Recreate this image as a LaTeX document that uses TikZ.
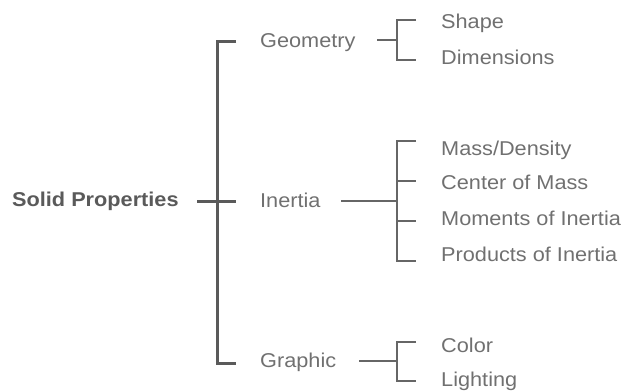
\documentclass[tikz,border=0pt]{standalone}
\usepackage{fontspec}
\setmainfont[FakeStretch=1.085]{Liberation Sans}
\definecolor{mainline}{HTML}{5A5A5A}
\definecolor{subline}{HTML}{666666}
\definecolor{txt}{HTML}{707070}
\definecolor{boldtxt}{HTML}{5A5A5A}
\begin{document}
\begin{tikzpicture}[x=1pt,y=-1pt,
  lbl/.style={anchor=base west,inner sep=0pt,text=txt,font=\fontsize{20}{24}\selectfont},
  rootlbl/.style={anchor=base west,inner sep=0pt,text=boldtxt,font=\fontsize{20}{24}\selectfont\bfseries},
  mainbr/.style={draw=mainline,line width=3pt},
  subbr/.style={draw=subline,line width=1.6pt}]
\useasboundingbox (0,0) rectangle (626,391);
% labels
\node[rootlbl] (root) at (12,206) {Solid Properties};
\node[lbl] (geo) at (260,47) {Geometry};
\node[lbl] (ine) at (260,207) {Inertia};
\node[lbl] (gra) at (260,367) {Graphic};
\node[lbl] (sha) at (441,28) {Shape};
\node[lbl] (dim) at (441,64) {Dimensions};
\node[lbl] (mas) at (441,155) {Mass/Density};
\node[lbl] (cen) at (441,189) {Center of Mass};
\node[lbl] (mom) at (441,225) {Moments of Inertia};
\node[lbl] (pro) at (441,261) {Products of Inertia};
\node[lbl] (col) at (441,352) {Color};
\node[lbl] (lig) at (441,386) {Lighting};
% main bracket
\coordinate (mt) at (217,41);
\coordinate (mb) at (217,363);
\coordinate (mm) at (217,201);
\draw[mainbr] (236,41) -- (mt) -- (mb) -- (236,363);
\draw[mainbr] (197,201) -- (236,201);
% geometry bracket
\coordinate (gt) at (397,20);
\coordinate (gb) at (397,60);
\draw[subbr] (416,20) -- (gt) -- (gb) -- (416,60);
\draw[subbr] (377,40) -- (397,40);
% inertia bracket
\coordinate (it) at (397,141);
\coordinate (ib) at (397,261);
\draw[subbr] (416,141) -- (it) -- (ib) -- (416,261);
\draw[subbr] (397,181) -- (416,181);
\draw[subbr] (397,221) -- (416,221);
\draw[subbr] (341,201) -- (397,201);
% graphic bracket
\coordinate (ct) at (397,342);
\coordinate (cb) at (397,381);
\draw[subbr] (416,342) -- (ct) -- (cb) -- (416,381);
\draw[subbr] (359,361) -- (397,361);
\end{tikzpicture}
\end{document}
